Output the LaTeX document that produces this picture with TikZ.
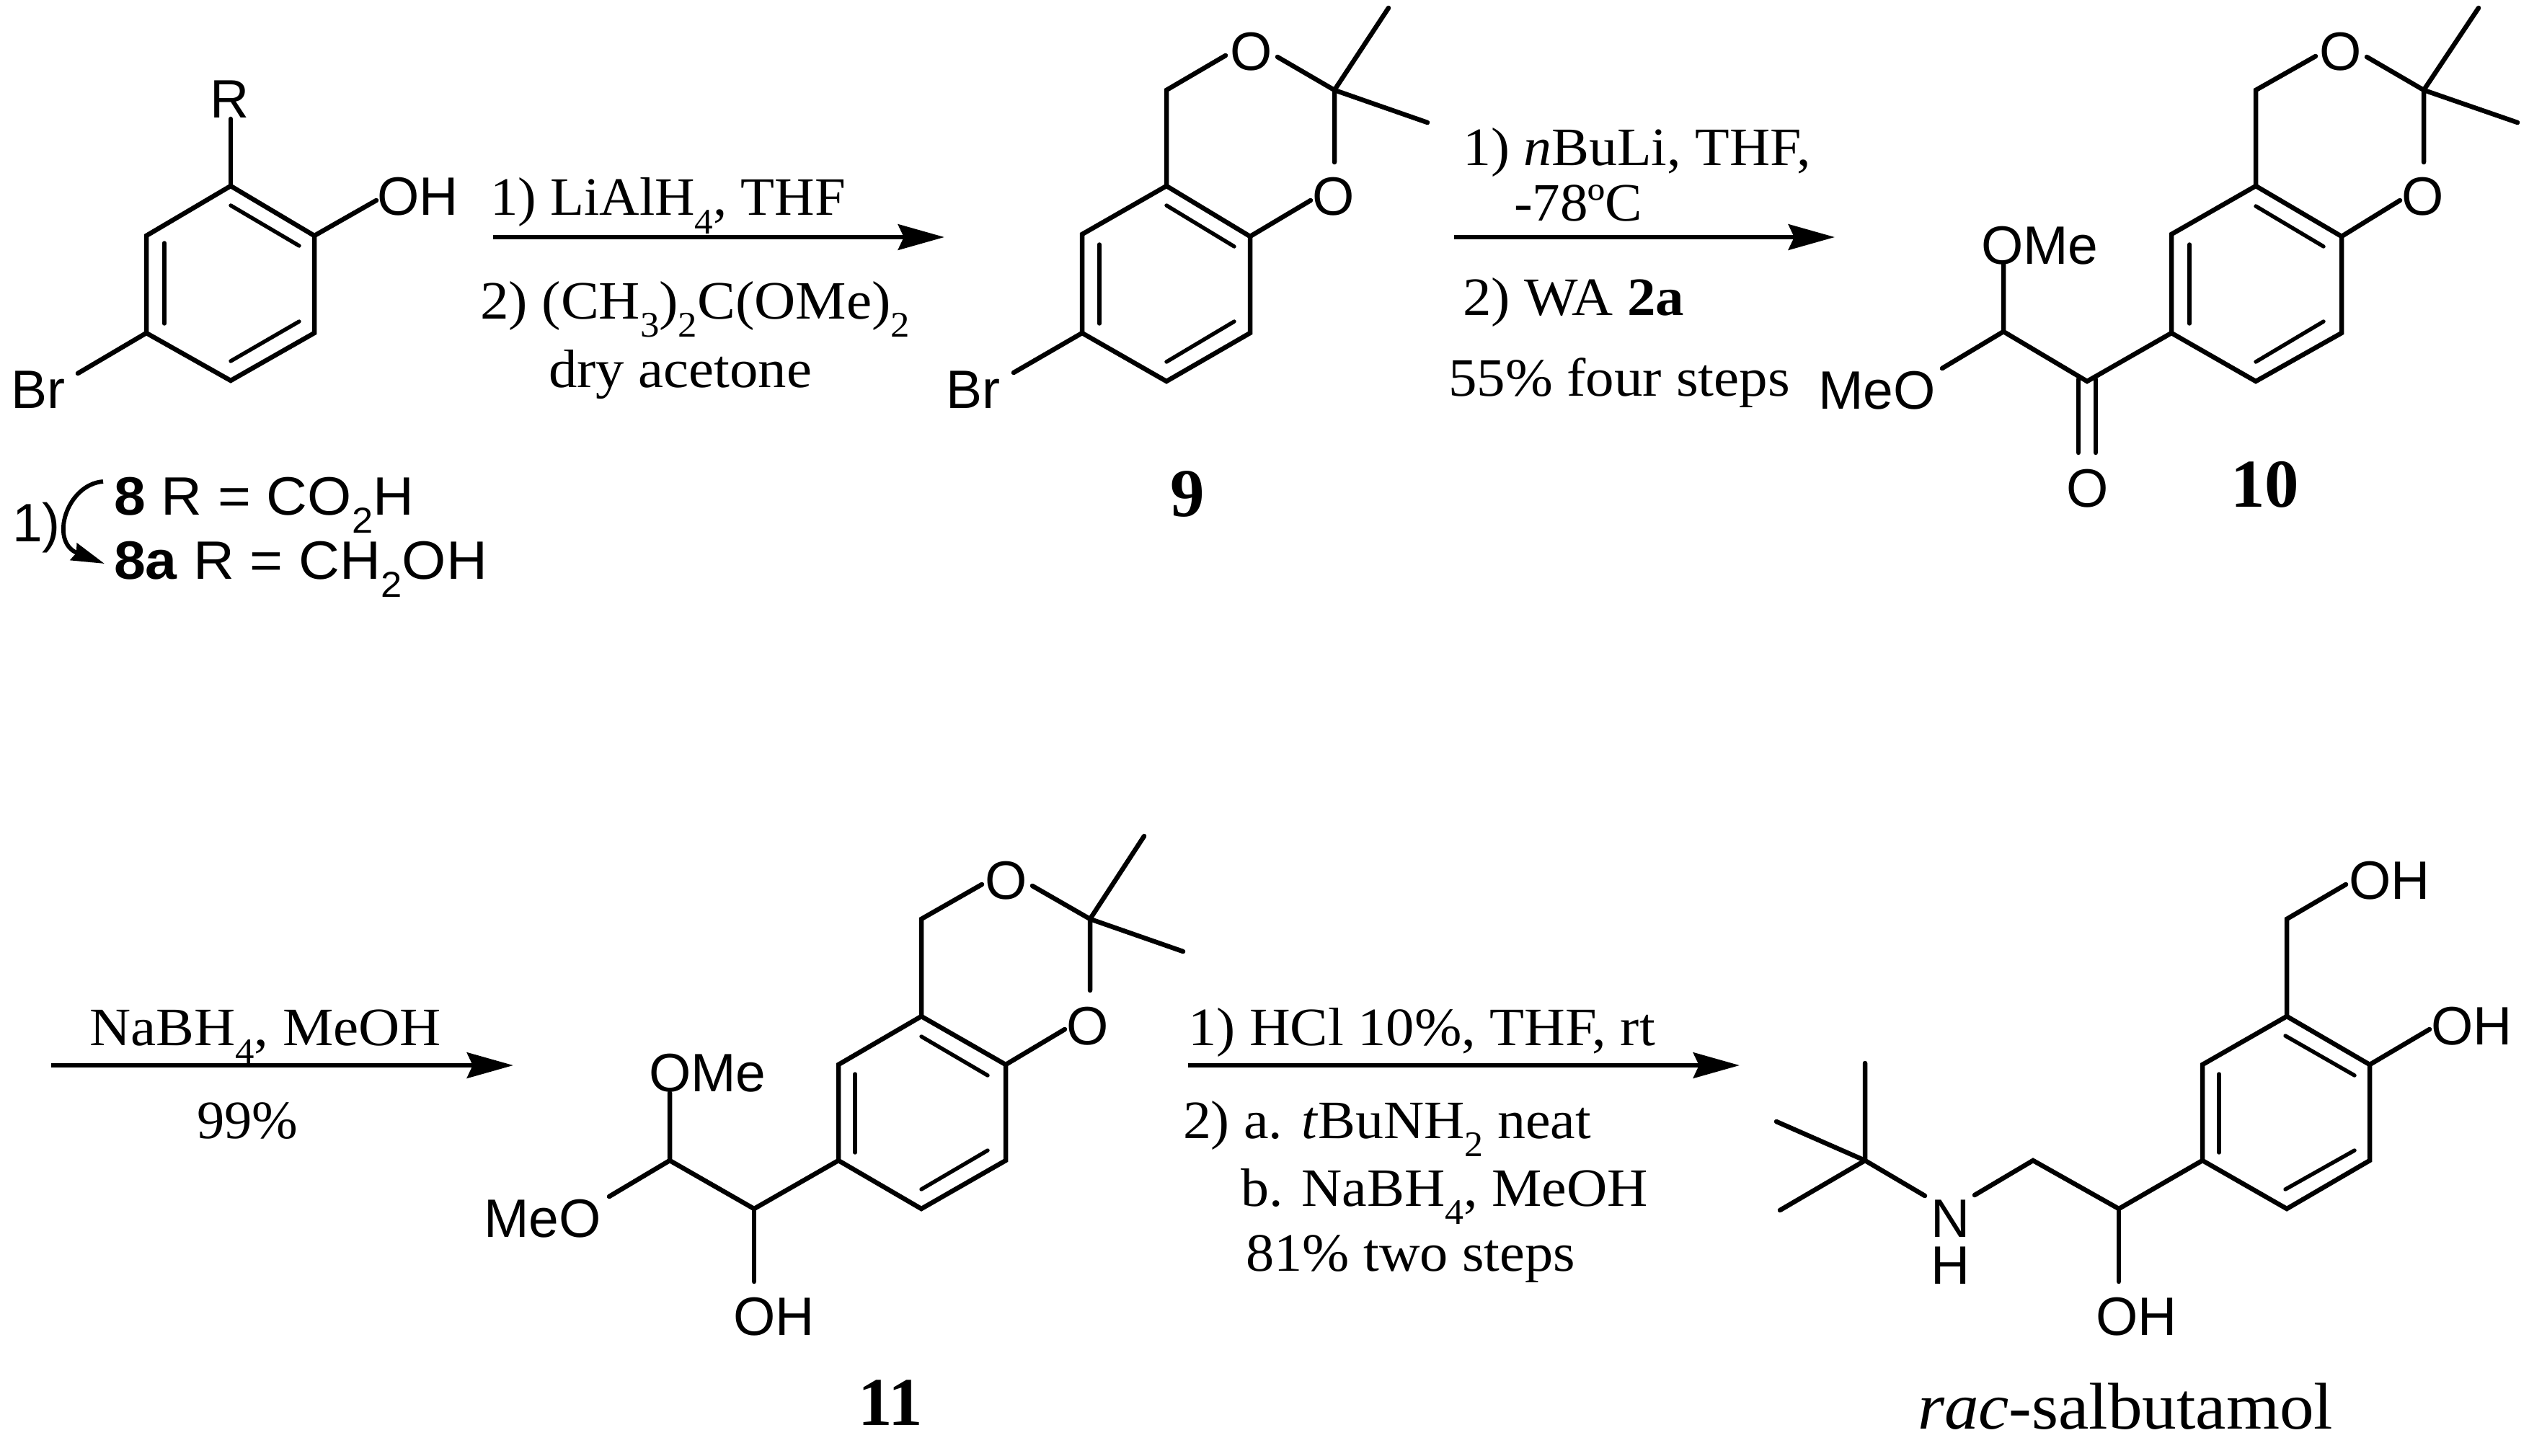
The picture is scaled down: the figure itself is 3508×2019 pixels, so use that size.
\documentclass[tikz,border=0pt]{standalone}
\usepackage{graphicx}
\usepackage{fontspec}
\setmainfont{Liberation Serif}
\setsansfont{Liberation Sans}
\usetikzlibrary{arrows.meta}
\newlength\pxu \setlength\pxu{0.24pt}
% name, x, baseline y, target width (px), font, text
\newcommand{\lbl}[6]{\node[lab] (#1) at (#2,#3) {\resizebox{#4\pxu}{\height}{#5#6}};}
% name, x, baseline y, font, text (natural width)
\newcommand{\atm}[5]{\node[lab,font=#4] (#1) at (#2,#3) {#5};}
\newcommand{\sbs}[1]{\raisebox{-6pt}{\fontsize{12}{13}\selectfont #1}}
\newcommand{\fsa}{\sffamily\fontsize{18}{20}\selectfont}
\newcommand{\ftm}{\rmfamily\fontsize{18}{20}\selectfont}
\newcommand{\fbg}{\rmfamily\bfseries\fontsize{22.8}{25}\selectfont}
\newcommand{\frg}{\rmfamily\fontsize{22}{25}\selectfont}
\tikzset{
  lab/.style={anchor=base west,inner sep=0pt,outer sep=0pt},
  bond/.style={line width=1.56pt,line cap=round,line join=miter,black},
  inner bond/.style={line width=1.3pt,line cap=round,black},
  rxn/.style={line width=1.56pt,black,-{Stealth[length=15.4pt,width=8.5pt,inset=1.9pt]}},
  curly/.style={line width=1.4pt,black,-{Stealth[length=11pt,width=6pt,inset=1pt]}}
}
\begin{document}
\begin{tikzpicture}[x=0.24pt,y=-0.24pt]
\useasboundingbox (0,0) rectangle (3508,2019);
% ---------- compound 8
\coordinate (a1) at (320,258); \coordinate (a2) at (436,327); \coordinate (a3) at (436,462);
\coordinate (a4) at (320,528); \coordinate (a5) at (203,462); \coordinate (a6) at (203,327);
\coordinate (aR) at (320,165); \coordinate (aO) at (522,278); \coordinate (aBr) at (108,518);
\coordinate (ai1) at (320,285); \coordinate (ai2) at (415,341); \coordinate (ai3) at (228,337);
\coordinate (ai4) at (228,449); \coordinate (ai5) at (320,501); \coordinate (ai6) at (415,446);
\draw[bond] (a1)--(a2)--(a3)--(a4)--(a5)--(a6)--cycle;
\draw[bond] (a1)--(aR); \draw[bond] (a2)--(aO); \draw[bond] (a5)--(aBr);
\draw[inner bond] (ai1)--(ai2); \draw[inner bond] (ai3)--(ai4); \draw[inner bond] (ai5)--(ai6);
\atm{tR}{291}{164}{\fsa}{R}
\atm{tOHa}{523}{299}{\fsa}{OH}
\atm{tBra}{15}{566}{\fsa}{Br}
\lbl{t8}{158}{714}{416}{\fsa}{\textbf{8} R = CO\sbs{2}H}
\lbl{t8a}{158}{803}{518}{\fsa}{\textbf{8a} R = CH\sbs{2}OH}
\atm{t1p}{17}{751}{\fsa}{1)}
\coordinate (cs) at (143,668); \coordinate (cc1) at (92,672); \coordinate (cc2) at (68,752); \coordinate (ce) at (145,782);
\draw[curly] (cs) .. controls (cc1) and (cc2) .. (ce);
% ---------- arrow 1
\coordinate (r1s) at (684,329); \coordinate (r1e) at (1310,329);
\draw[rxn] (r1s)--(r1e);
\lbl{r1a}{680}{299}{493}{\ftm}{1) LiAlH\sbs{4}, THF}
\lbl{r1b}{666}{442}{596}{\ftm}{2) (CH\sbs{3})\sbs{2}C(OMe)\sbs{2}}
\lbl{r1c}{761}{537}{365}{\ftm}{dry acetone}
% ---------- compound 9
\coordinate (b1) at (1618,258); \coordinate (b2) at (1734,328); \coordinate (b3) at (1734,462);
\coordinate (b4) at (1618,529); \coordinate (b5) at (1501,462); \coordinate (b6) at (1501,325);
\coordinate (b7) at (1618,125); \coordinate (b8) at (1700,77); \coordinate (b9) at (1772,79);
\coordinate (b10) at (1851,125); \coordinate (b11) at (1926,11); \coordinate (b12) at (1980,170);
\coordinate (b13) at (1851,225); \coordinate (b14) at (1818,278); \coordinate (bBr) at (1406,517);
\coordinate (bi1) at (1618,285); \coordinate (bi2) at (1712,342); \coordinate (bi3) at (1525,339);
\coordinate (bi4) at (1525,449); \coordinate (bi5) at (1618,502); \coordinate (bi6) at (1712,446);
\draw[bond] (b1)--(b2)--(b3)--(b4)--(b5)--(b6)--cycle;
\draw[bond] (b1)--(b7)--(b8); \draw[bond] (b9)--(b10)--(b13); \draw[bond] (b10)--(b11); \draw[bond] (b10)--(b12);
\draw[bond] (b14)--(b2); \draw[bond] (b5)--(bBr);
\draw[inner bond] (bi1)--(bi2); \draw[inner bond] (bi3)--(bi4); \draw[inner bond] (bi5)--(bi6);
\atm{tOb1}{1706}{98}{\fsa}{O}
\atm{tOb2}{1820}{299}{\fsa}{O}
\atm{tBrb}{1312}{566}{\fsa}{Br}
\atm{t9}{1623}{716}{\fbg}{9}
% ---------- arrow 2
\coordinate (r2s) at (2017,329); \coordinate (r2e) at (2545,329);
\draw[rxn] (r2s)--(r2e);
\lbl{r2a}{2029}{229}{483}{\ftm}{1) \textit{n}BuLi, THF,}
\lbl{r2b}{2100}{306}{178}{\ftm}{-78ºC}
\lbl{r2c}{2029}{437}{307}{\ftm}{2) WA \textbf{2a}}
\lbl{r2d}{2009}{549}{474}{\ftm}{55\% four steps}
% ---------- compound 10
\coordinate (c1) at (3129,258); \coordinate (c2) at (3248,328); \coordinate (c3) at (3248,462);
\coordinate (c4) at (3129,529); \coordinate (c5) at (3012,462); \coordinate (c6) at (3012,325);
\coordinate (c7) at (3129,125); \coordinate (c8) at (3212,78); \coordinate (c9) at (3283,79);
\coordinate (c10) at (3362,125); \coordinate (c11) at (3438,11); \coordinate (c12) at (3492,170);
\coordinate (c13) at (3362,225); \coordinate (c14) at (3329,278);
\coordinate (ci1) at (3129,286); \coordinate (ci2) at (3223,342); \coordinate (ci3) at (3037,339);
\coordinate (ci4) at (3037,449); \coordinate (ci5) at (3129,502); \coordinate (ci6) at (3223,446);
\coordinate (c15) at (2895,529); \coordinate (c16) at (2779,460); \coordinate (c17) at (2779,366);
\coordinate (c18) at (2694,511); \coordinate (c19) at (2883,526); \coordinate (c20) at (2883,628);
\coordinate (c21) at (2907,526); \coordinate (c22) at (2907,628);
\draw[bond] (c1)--(c2)--(c3)--(c4)--(c5)--(c6)--cycle;
\draw[bond] (c1)--(c7)--(c8); \draw[bond] (c9)--(c10)--(c13); \draw[bond] (c10)--(c11); \draw[bond] (c10)--(c12);
\draw[bond] (c14)--(c2); \draw[bond] (c5)--(c15)--(c16)--(c17); \draw[bond] (c16)--(c18);
\draw[bond] (c19)--(c20); \draw[bond] (c21)--(c22);
\draw[inner bond] (ci1)--(ci2); \draw[inner bond] (ci3)--(ci4); \draw[inner bond] (ci5)--(ci6);
\atm{tOc1}{3217}{98}{\fsa}{O}
\atm{tOc2}{3331}{299}{\fsa}{O}
\atm{tOMec}{2748}{366}{\fsa}{OMe}
\atm{tMeOc}{2522}{567}{\fsa}{MeO}
\atm{tOc3}{2866}{703}{\fsa}{O}
\atm{t10}{3094}{703}{\fbg}{10}
% ---------- arrow 3
\coordinate (r3s) at (71,1478); \coordinate (r3e) at (712,1478);
\draw[rxn] (r3s)--(r3e);
\lbl{r3a}{124}{1450}{488}{\ftm}{NaBH\sbs{4}, MeOH}
\lbl{r3b}{273}{1579}{140}{\ftm}{99\%}
% ---------- compound 11
\coordinate (d1) at (1278,1410); \coordinate (d2) at (1395,1477); \coordinate (d3) at (1395,1610);
\coordinate (d4) at (1278,1677); \coordinate (d5) at (1163,1610); \coordinate (d6) at (1163,1477);
\coordinate (d7) at (1278,1275); \coordinate (d8) at (1362,1227); \coordinate (d9) at (1432,1229);
\coordinate (d10) at (1512,1275); \coordinate (d11) at (1587,1160); \coordinate (d12) at (1641,1320);
\coordinate (d13) at (1512,1374); \coordinate (d14) at (1477,1428);
\coordinate (di1) at (1278,1438); \coordinate (di2) at (1370,1492); \coordinate (di3) at (1186,1490);
\coordinate (di4) at (1186,1599); \coordinate (di5) at (1278,1650); \coordinate (di6) at (1370,1596);
\coordinate (d15) at (1046,1677); \coordinate (d16) at (929,1610); \coordinate (d17) at (929,1516);
\coordinate (d18) at (845,1660); \coordinate (d19) at (1046,1778);
\draw[bond] (d1)--(d2)--(d3)--(d4)--(d5)--(d6)--cycle;
\draw[bond] (d1)--(d7)--(d8); \draw[bond] (d9)--(d10)--(d13); \draw[bond] (d10)--(d11); \draw[bond] (d10)--(d12);
\draw[bond] (d14)--(d2); \draw[bond] (d5)--(d15)--(d16)--(d17); \draw[bond] (d16)--(d18); \draw[bond] (d15)--(d19);
\draw[inner bond] (di1)--(di2); \draw[inner bond] (di3)--(di4); \draw[inner bond] (di5)--(di6);
\atm{tOd1}{1366}{1247}{\fsa}{O}
\atm{tOd2}{1479}{1449}{\fsa}{O}
\atm{tOMed}{900}{1514}{\fsa}{OMe}
\atm{tMeOd}{671}{1716}{\fsa}{MeO}
\atm{tOHd}{1017}{1852}{\fsa}{OH}
\atm{t11}{1190}{1977}{\fbg}{11}
% ---------- arrow 4
\coordinate (r4s) at (1648,1478); \coordinate (r4e) at (2413,1478);
\draw[rxn] (r4s)--(r4e);
\lbl{r4a}{1648}{1450}{648}{\ftm}{1) HCl 10\%, THF, rt}
\lbl{r4b}{1641}{1579}{566}{\ftm}{2) a. \textit{t}BuNH\sbs{2} neat}
\lbl{r4c}{1721}{1673}{565}{\ftm}{b. NaBH\sbs{4}, MeOH}
\lbl{r4d}{1728}{1763}{457}{\ftm}{81\% two steps}
% ---------- rac-salbutamol
\coordinate (e1) at (3172,1410); \coordinate (e2) at (3287,1477); \coordinate (e3) at (3287,1610);
\coordinate (e4) at (3172,1677); \coordinate (e5) at (3055,1610); \coordinate (e6) at (3055,1477);
\coordinate (e7) at (3172,1275); \coordinate (e8) at (3254,1227); \coordinate (e9) at (3370,1428);
\coordinate (ei1) at (3170,1437); \coordinate (ei2) at (3266,1492); \coordinate (ei3) at (3078,1490);
\coordinate (ei4) at (3078,1599); \coordinate (ei5) at (3170,1650); \coordinate (ei6) at (3266,1596);
\coordinate (e10) at (2939,1677); \coordinate (e11) at (2939,1778); \coordinate (e12) at (2820,1610);
\coordinate (e13) at (2739,1658); \coordinate (e14) at (2670,1659); \coordinate (e15) at (2587,1610);
\coordinate (e16) at (2587,1475); \coordinate (e17) at (2464,1556); \coordinate (e18) at (2469,1679);
\draw[bond] (e1)--(e2)--(e3)--(e4)--(e5)--(e6)--cycle;
\draw[bond] (e1)--(e7)--(e8); \draw[bond] (e2)--(e9);
\draw[bond] (e5)--(e10)--(e12)--(e13); \draw[bond] (e10)--(e11);
\draw[bond] (e14)--(e15)--(e16); \draw[bond] (e15)--(e17); \draw[bond] (e15)--(e18);
\draw[inner bond] (ei1)--(ei2); \draw[inner bond] (ei3)--(ei4); \draw[inner bond] (ei5)--(ei6);
\atm{tOHe1}{3258}{1247}{\fsa}{OH}
\atm{tOHe2}{3372}{1449}{\fsa}{OH}
\atm{tOHe3}{2907}{1852}{\fsa}{OH}
\atm{tNH}{2678}{1716}{\fsa}{N\llap{\raisebox{-15.6pt}{H}}}
\lbl{trac}{2660}{1982}{576}{\frg}{\textit{rac}-salbutamol}
\end{tikzpicture}
\end{document}
